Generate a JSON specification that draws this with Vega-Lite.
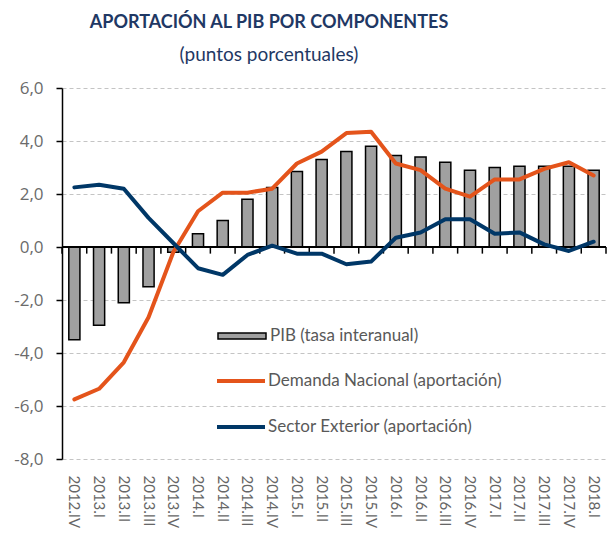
{
  "$schema": "https://vega.github.io/schema/vega-lite/v6.json",
  "width": 544,
  "height": 371,
  "autosize": {"type": "none"},
  "padding": {"left": 62, "top": 88, "right": 1, "bottom": 78},
  "background": "white",
  "title": {
    "text": "APORTACIÓN AL PIB POR COMPONENTES",
    "subtitle": "(puntos porcentuales)",
    "anchor": "middle",
    "frame": "group",
    "dx": -65,
    "offset": 14,
    "font": "Lato",
    "fontSize": 18,
    "fontWeight": "bold",
    "color": "#1F3864",
    "subtitleFont": "Lato",
    "subtitleFontSize": 19,
    "subtitleColor": "#1F3864",
    "subtitlePadding": 14
  },
  "config": {
    "view": {"stroke": null},
    "axisY": {"labelFont": "Open Sans", "labelFontSize": 17, "labelColor": "#6b6b6b"},
    "axisX": {"labelFont": "Lato", "labelFontSize": 15, "labelColor": "#666666"}
  },
  "data": {
    "values": [
      {"q": "2012.IV", "serie": "PIB (tasa interanual)", "valor": -3.5},
      {"q": "2013.I", "serie": "PIB (tasa interanual)", "valor": -2.95},
      {"q": "2013.II", "serie": "PIB (tasa interanual)", "valor": -2.1},
      {"q": "2013.III", "serie": "PIB (tasa interanual)", "valor": -1.5},
      {"q": "2013.IV", "serie": "PIB (tasa interanual)", "valor": -0.2},
      {"q": "2014.I", "serie": "PIB (tasa interanual)", "valor": 0.5},
      {"q": "2014.II", "serie": "PIB (tasa interanual)", "valor": 1.0},
      {"q": "2014.III", "serie": "PIB (tasa interanual)", "valor": 1.8},
      {"q": "2014.IV", "serie": "PIB (tasa interanual)", "valor": 2.25},
      {"q": "2015.I", "serie": "PIB (tasa interanual)", "valor": 2.85},
      {"q": "2015.II", "serie": "PIB (tasa interanual)", "valor": 3.3},
      {"q": "2015.III", "serie": "PIB (tasa interanual)", "valor": 3.6},
      {"q": "2015.IV", "serie": "PIB (tasa interanual)", "valor": 3.8},
      {"q": "2016.I", "serie": "PIB (tasa interanual)", "valor": 3.45},
      {"q": "2016.II", "serie": "PIB (tasa interanual)", "valor": 3.4},
      {"q": "2016.III", "serie": "PIB (tasa interanual)", "valor": 3.2},
      {"q": "2016.IV", "serie": "PIB (tasa interanual)", "valor": 2.9},
      {"q": "2017.I", "serie": "PIB (tasa interanual)", "valor": 3.0},
      {"q": "2017.II", "serie": "PIB (tasa interanual)", "valor": 3.05},
      {"q": "2017.III", "serie": "PIB (tasa interanual)", "valor": 3.05},
      {"q": "2017.IV", "serie": "PIB (tasa interanual)", "valor": 3.05},
      {"q": "2018.I", "serie": "PIB (tasa interanual)", "valor": 2.9},
      {"q": "2012.IV", "serie": "Demanda Nacional (aportación)", "valor": -5.75},
      {"q": "2013.I", "serie": "Demanda Nacional (aportación)", "valor": -5.35},
      {"q": "2013.II", "serie": "Demanda Nacional (aportación)", "valor": -4.35},
      {"q": "2013.III", "serie": "Demanda Nacional (aportación)", "valor": -2.65},
      {"q": "2013.IV", "serie": "Demanda Nacional (aportación)", "valor": -0.2},
      {"q": "2014.I", "serie": "Demanda Nacional (aportación)", "valor": 1.35},
      {"q": "2014.II", "serie": "Demanda Nacional (aportación)", "valor": 2.05},
      {"q": "2014.III", "serie": "Demanda Nacional (aportación)", "valor": 2.05},
      {"q": "2014.IV", "serie": "Demanda Nacional (aportación)", "valor": 2.2},
      {"q": "2015.I", "serie": "Demanda Nacional (aportación)", "valor": 3.15},
      {"q": "2015.II", "serie": "Demanda Nacional (aportación)", "valor": 3.6},
      {"q": "2015.III", "serie": "Demanda Nacional (aportación)", "valor": 4.3},
      {"q": "2015.IV", "serie": "Demanda Nacional (aportación)", "valor": 4.35},
      {"q": "2016.I", "serie": "Demanda Nacional (aportación)", "valor": 3.15},
      {"q": "2016.II", "serie": "Demanda Nacional (aportación)", "valor": 2.9},
      {"q": "2016.III", "serie": "Demanda Nacional (aportación)", "valor": 2.2},
      {"q": "2016.IV", "serie": "Demanda Nacional (aportación)", "valor": 1.9},
      {"q": "2017.I", "serie": "Demanda Nacional (aportación)", "valor": 2.55},
      {"q": "2017.II", "serie": "Demanda Nacional (aportación)", "valor": 2.55},
      {"q": "2017.III", "serie": "Demanda Nacional (aportación)", "valor": 2.95},
      {"q": "2017.IV", "serie": "Demanda Nacional (aportación)", "valor": 3.2},
      {"q": "2018.I", "serie": "Demanda Nacional (aportación)", "valor": 2.7},
      {"q": "2012.IV", "serie": "Sector Exterior (aportación)", "valor": 2.25},
      {"q": "2013.I", "serie": "Sector Exterior (aportación)", "valor": 2.35},
      {"q": "2013.II", "serie": "Sector Exterior (aportación)", "valor": 2.2},
      {"q": "2013.III", "serie": "Sector Exterior (aportación)", "valor": 1.1},
      {"q": "2013.IV", "serie": "Sector Exterior (aportación)", "valor": 0.15},
      {"q": "2014.I", "serie": "Sector Exterior (aportación)", "valor": -0.8},
      {"q": "2014.II", "serie": "Sector Exterior (aportación)", "valor": -1.05},
      {"q": "2014.III", "serie": "Sector Exterior (aportación)", "valor": -0.3},
      {"q": "2014.IV", "serie": "Sector Exterior (aportación)", "valor": 0.05},
      {"q": "2015.I", "serie": "Sector Exterior (aportación)", "valor": -0.25},
      {"q": "2015.II", "serie": "Sector Exterior (aportación)", "valor": -0.25},
      {"q": "2015.III", "serie": "Sector Exterior (aportación)", "valor": -0.65},
      {"q": "2015.IV", "serie": "Sector Exterior (aportación)", "valor": -0.55},
      {"q": "2016.I", "serie": "Sector Exterior (aportación)", "valor": 0.35},
      {"q": "2016.II", "serie": "Sector Exterior (aportación)", "valor": 0.55},
      {"q": "2016.III", "serie": "Sector Exterior (aportación)", "valor": 1.05},
      {"q": "2016.IV", "serie": "Sector Exterior (aportación)", "valor": 1.05},
      {"q": "2017.I", "serie": "Sector Exterior (aportación)", "valor": 0.5},
      {"q": "2017.II", "serie": "Sector Exterior (aportación)", "valor": 0.55},
      {"q": "2017.III", "serie": "Sector Exterior (aportación)", "valor": 0.1},
      {"q": "2017.IV", "serie": "Sector Exterior (aportación)", "valor": -0.15},
      {"q": "2018.I", "serie": "Sector Exterior (aportación)", "valor": 0.2}
    ]
  },
  "encoding": {
    "x": {
      "field": "q",
      "type": "nominal",
      "sort": null,
      "scale": {"paddingInner": 0, "paddingOuter": 0},
      "axis": {
        "title": null,
        "labelAngle": 90,
        "labelAlign": "left",
        "labelBaseline": "middle",
        "labelPadding": 16,
        "domain": false,
        "ticks": false,
        "grid": false
      }
    },
    "y": {
      "field": "valor",
      "type": "quantitative",
      "scale": {"domain": [-8, 6], "nice": false, "zero": false},
      "axis": {
        "title": null,
        "values": [-8, -6, -4, -2, 0, 2, 4, 6],
        "labelExpr": "(datum.value < 0 ? '-' : '') + replace(format(abs(datum.value), '.1f'), '.', ',')",
        "labelPadding": 13,
        "grid": true,
        "gridDash": [4, 3],
        "gridColor": "#c4c4c4",
        "gridWidth": 1,
        "domain": true,
        "domainColor": "black",
        "domainWidth": 1.5,
        "ticks": true,
        "tickColor": "black",
        "tickSize": 6,
        "tickWidth": 1.5
      }
    }
  },
  "layer": [
    {
      "transform": [{"filter": "datum.serie === 'PIB (tasa interanual)'"}],
      "mark": {"type": "bar", "width": {"band": 0.45}, "stroke": "black", "strokeWidth": 1.5},
      "encoding": {
        "fill": {
          "field": "serie",
          "type": "nominal",
          "scale": {"domain": ["PIB (tasa interanual)"], "range": ["#a0a0a0"]},
          "legend": {
            "title": null,
            "orient": "none",
            "legendX": 167,
            "legendY": 235,
            "labelFont": "Lato",
            "labelFontSize": 17,
            "labelColor": "#595959",
            "labelOffset": 15,
            "symbolType": "M-2,-0.25H2V0.25H-2Z",
            "symbolSize": 576,
            "symbolStrokeColor": "black",
            "symbolStrokeWidth": 1.5,
            "symbolOpacity": 1,
            "labelLimit": 400
          }
        }
      }
    },
    {
      "mark": {"type": "rule", "color": "black", "strokeWidth": 1.5},
      "encoding": {"y": {"datum": 0}, "x": null}
    },
    {
      "transform": [{"filter": "datum.serie === 'PIB (tasa interanual)'"}],
      "mark": {"type": "rule", "color": "black", "strokeWidth": 1.5},
      "encoding": {
        "x": {"field": "q", "type": "nominal", "sort": null, "bandPosition": 0},
        "y": {"datum": 0},
        "y2": {"datum": -0.25}
      }
    },
    {
      "transform": [{"filter": "datum.serie === 'PIB (tasa interanual)' && datum.q === '2018.I'"}],
      "mark": {"type": "rule", "color": "black", "strokeWidth": 1.5},
      "encoding": {
        "x": {"field": "q", "type": "nominal", "sort": null, "bandPosition": 1},
        "y": {"datum": 0},
        "y2": {"datum": -0.25}
      }
    },
    {
      "transform": [{"filter": "datum.serie !== 'PIB (tasa interanual)'"}],
      "mark": {"type": "line", "strokeWidth": 4, "strokeCap": "round", "strokeJoin": "round"},
      "encoding": {
        "stroke": {
          "field": "serie",
          "type": "nominal",
          "sort": null,
          "scale": {"domain": ["Demanda Nacional (aportación)", "Sector Exterior (aportación)"], "range": ["#E4541B", "#003767"]},
          "legend": {
            "title": null,
            "orient": "none",
            "legendX": 165,
            "legendY": 279,
            "labelFont": "Lato",
            "labelFontSize": 17,
            "labelColor": "#595959",
            "labelOffset": 13,
            "symbolType": "M-2,0H2",
            "symbolSize": 576,
            "symbolStrokeWidth": 4,
            "symbolOpacity": 1,
            "rowPadding": 24,
            "labelLimit": 400
          }
        }
      }
    }
  ]
}
